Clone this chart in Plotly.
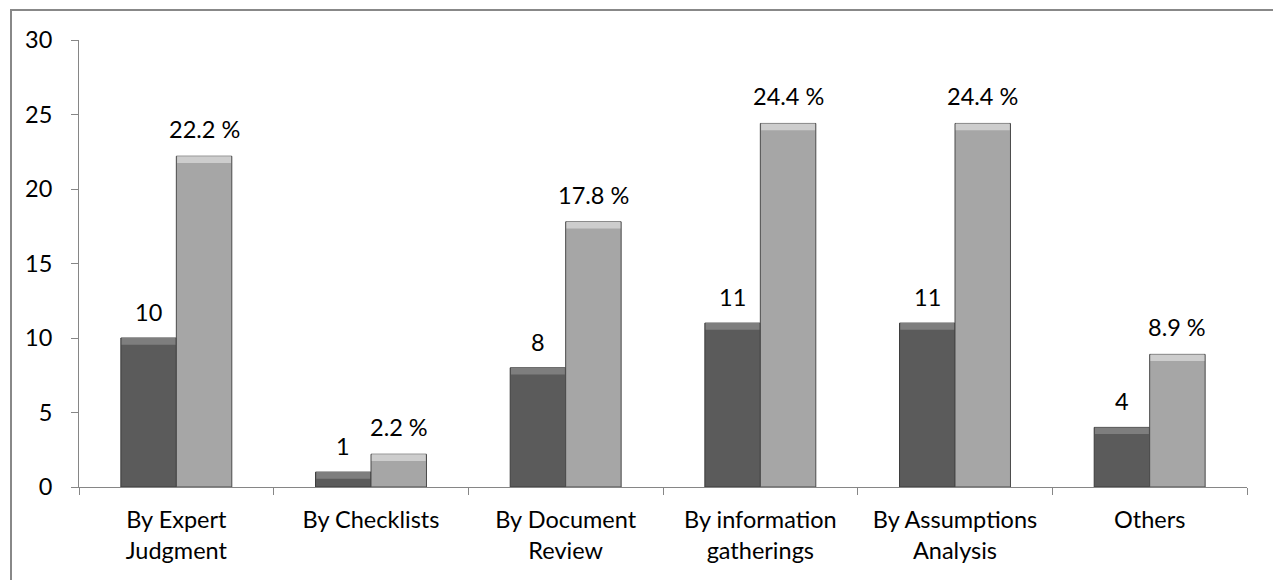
import plotly.graph_objects as go

categories = ["By Expert<br>Judgment", "By Checklists", "By Document<br>Review",
              "By information<br>gatherings", "By Assumptions<br>Analysis", "Others"]
counts = [10, 1, 8, 11, 11, 4]
percents = [22.2, 2.2, 17.8, 24.4, 24.4, 8.9]
count_labels = ["10", "1", "8", "11", "11", "4"]
percent_labels = ["22.2 %", "2.2 %", "17.8 %", "24.4 %", "24.4 %", "8.9 %"]
y_ticks = [0, 5, 10, 15, 20, 25, 30]

FONT = "Lato, Carlito, Calibri, sans-serif"
FS = 23.5
BW = 0.285
BEVEL = 0.45

fig = go.Figure()

def add_series(vals, offset, body, top, edge):
    fig.add_trace(go.Bar(x=categories, y=vals, offset=offset, width=BW,
                         marker=dict(color=body, line=dict(color=edge, width=1)),
                         showlegend=False, hoverinfo="x+y"))
    fig.add_trace(go.Bar(x=categories, y=[BEVEL] * len(vals),
                         base=[v - BEVEL for v in vals],
                         offset=offset + 0.004, width=BW - 0.008,
                         marker=dict(color=top, line=dict(width=0)),
                         showlegend=False, hoverinfo="skip"))

add_series(counts, -BW, "#5b5b5b", "#7e7e7e", "#3c3c3c")
add_series(percents, 0.0, "#a6a6a6", "#cdcdcd", "#4a4a4a")

annotations = []
for c, v, t in zip(categories, counts, count_labels):
    annotations.append(dict(x=c, y=v, text=t, showarrow=False, xshift=-BW * 194.7 / 2,
                            yshift=26, yanchor="middle", xanchor="center",
                            font=dict(family=FONT, size=FS, color="#000000")))
for c, v, t in zip(categories, percents, percent_labels):
    annotations.append(dict(x=c, y=v, text=t, showarrow=False, xshift=BW * 194.7 / 2,
                            yshift=27, yanchor="middle", xanchor="center",
                            font=dict(family=FONT, size=FS, color="#000000")))

fig.update_layout(
    width=1273, height=580,
    margin=dict(l=79, r=26, t=40, b=93),
    paper_bgcolor="white", plot_bgcolor="white",
    barmode="overlay",
    font=dict(family=FONT, size=FS, color="#000000"),
    annotations=annotations,
    shapes=[dict(type="rect", xref="paper", yref="paper",
                 x0=(11 - 79) / 1168, x1=1.05, y0=-0.3, y1=1 + 30 / 447,
                 line=dict(color="#888888", width=2), layer="below")],
)
fig.update_xaxes(showline=True, linecolor="#868686", linewidth=1,
                 ticks="outside", ticklen=7, tickcolor="#868686",
                 tickson="boundaries", showgrid=False, automargin=False,
                 ticklabelstandoff=12,
                 tickfont=dict(family=FONT, size=FS, color="#000000"))
fig.update_yaxes(range=[0, 30], tickvals=y_ticks, showline=True, linecolor="#868686",
                 linewidth=1, ticks="outside", ticklen=7, tickcolor="#868686",
                 showgrid=False, zeroline=False, ticklabelstandoff=14, automargin=False,
                 tickfont=dict(family=FONT, size=FS, color="#000000"))

fig.write_html("out.html")
